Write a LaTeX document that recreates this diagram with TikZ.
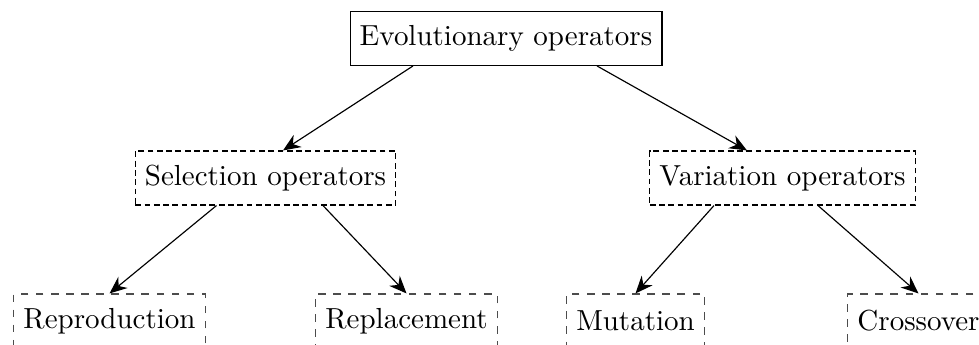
\documentclass[tikz,border=0pt]{standalone}
\usetikzlibrary{arrows.meta,calc}
\begin{document}
\begin{tikzpicture}[
  x=0.3448pt, y=-0.3448pt,
  opbox/.style={rectangle, inner xsep=3.33pt, inner ysep=0pt,
    minimum height=18.6pt, line width=0.4pt, font=\normalsize},
  rootbox/.style={opbox, draw=black},
  groupbox/.style={opbox, draw=black, dash pattern=on 2pt off 1.2pt},
  leafbox/.style={opbox, draw=black!70, dash pattern=on 2.6pt off 2.6pt},
  link/.style={-{Stealth[length=6pt,width=5pt]}, line width=0.4pt, black}
]
\useasboundingbox (0,0) rectangle (979,345);

% operator hierarchy
\node[rootbox]  (evo) at (506,38.4)   {Evolutionary operators};
\node[groupbox] (sel) at (265.5,178)  {Selection operators};
\node[groupbox] (var) at (782.5,178)  {Variation operators};
\node[leafbox]  (rep) at (109.5,321)  {Reproduction};
\node[leafbox]  (rpl) at (406.5,321)  {Replacement};
\node[leafbox]  (mut) at (635.5,321)  {Mutation};
\node[leafbox]  (cro) at (918.5,321)  {Crossover};

% connectors
\draw[link] ($(evo.south)+(-93,0)$) -- ($(sel.north)+(17.5,0)$);
\draw[link] ($(evo.south)+(91,0)$)  -- ($(var.north)+(-35.5,0)$);
\draw[link] ($(sel.south)+(-49,0)$) -- (rep.north);
\draw[link] ($(sel.south)+(57.5,0)$) -- (rpl.north);
\draw[link] ($(var.south)+(-68.5,0)$) -- (mut.north);
\draw[link] ($(var.south)+(35.5,0)$) -- (cro.north);
\end{tikzpicture}
\end{document}
